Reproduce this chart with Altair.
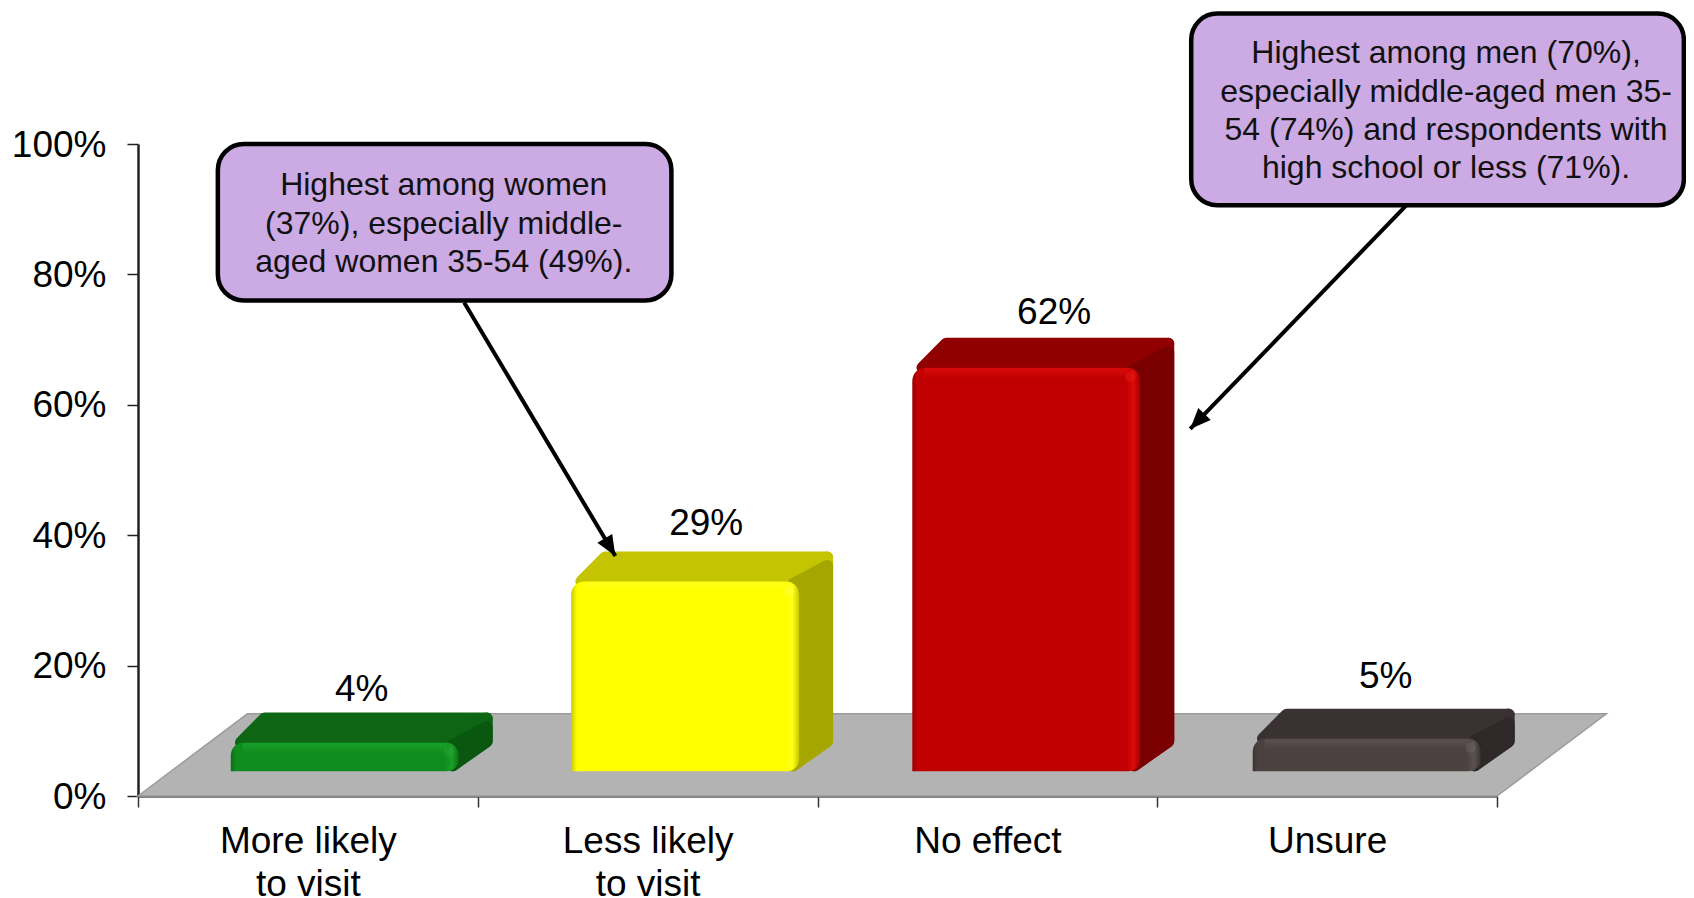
import altair as alt
import pandas as pd

# ---- chart values -------------------------------------------------------
categories = ["More likely to visit", "Less likely to visit", "No effect", "Unsure"]
tick_lines = [["More likely", "to visit"], ["Less likely", "to visit"], ["No effect"], ["Unsure"]]
values = [4.4, 29.1, 61.9, 5.0]
front = ["#108C1E", "#FFFF00", "#C00000", "#4B4141"]
light = ["#1AA02A", "#FFFF18", "#DD0A0A", "#5C5252"]
hot = ["#30A840", "#FFFF50", "#F02020", "#757070"]
dark = ["#0C7016", "#C8C800", "#A00000", "#3C3434"]
top = ["#0C6614", "#C4C400", "#900000", "#3A3232"]
side = ["#0A5810", "#A6A600", "#7A0000", "#2E2828"]
y_ticks = [0, 20, 40, 60, 80, 100]
bar_left = [0.273, 0.275, 0.279, 0.281]
label_shift_x = [0.05, 0.062, 0.082, 0.056]
label_shift_y = [3.4, 4.2, 3.8, 4.9]

notes = [
    "Highest among women\n(37%), especially middle-\naged women 35-54 (49%).",
    "Highest among men (70%),\nespecially middle-aged men 35-\n54 (74%) and respondents with\nhigh school or less (71%).",
]
note_x0 = [0.235, 3.10]
note_x1 = [1.57, 4.55]
note_y0 = [76.0, 90.6]
note_y1 = [100.0, 120.0]
note_cx = [0.90, 3.85]
note_lines = [3, 4]
arrow_x0 = [0.96, 3.733]
arrow_y0 = [75.7, 90.6]
arrow_x1 = [1.405, 3.097]
arrow_y1 = [36.8, 56.3]
arrow_angle = [149.2, 224.0]

# ---- projection constants ----------------------------------------------
W, H = 1359, 652
PX, PY = 4 / W, 100 / H        # data units per pixel
BASE = 3.8
BAR_W = 0.671
DX, DY = 0.100, 4.6
FLOOR_DX, FLOOR_DY = 0.322, 12.6
R = 6                          # half stroke of the rounded faces
BEVEL = 1.3
FONT = "Liberation Sans"
LINE = 38.4

x_scale = alt.Scale(domain=[0, 4], nice=False, zero=False)
y_scale = alt.Scale(domain=[0, 100], nice=False, zero=False)


def X(name="x"):
    return alt.X(f"{name}:Q", scale=x_scale, axis=None, title=None)


def Y(name="y"):
    return alt.Y(f"{name}:Q", scale=y_scale, axis=None, title=None, stack=None)


def poly(points, color, stroke=False):
    df = pd.DataFrame(points, columns=["x", "y", "y2"])
    kw = dict(color=color, line=False, opacity=1)
    if stroke:
        kw.update(stroke=color, strokeWidth=2 * R, strokeJoin="round")
    return alt.Chart(df).mark_area(**kw).encode(x=X(), y=Y(), y2=alt.Y2("y2:Q"))


# ---- floor, carrying the real axes ------------------------------------
label_expr = "{" + ",".join(
    f"'{i + 0.5}':{tick_lines[i]!r}" for i in range(len(categories))
) + "}[''+datum.value]"
floor_df = pd.DataFrame(
    [[0, 0, 0], [FLOOR_DX, FLOOR_DY, 0], [4, FLOOR_DY, 0], [4 + FLOOR_DX, FLOOR_DY, FLOOR_DY]],
    columns=["x", "y", "y2"],
)
floor = (
    alt.Chart(floor_df)
    .mark_area(color="#B3B3B3", stroke="#9C9C9C", strokeWidth=1.5, line=False)
    .encode(
        x=alt.X(
            "x:Q",
            scale=x_scale,
            title=None,
            axis=alt.Axis(
                values=[0, 0.5, 1, 1.5, 2, 2.5, 3, 3.5, 4],
                tickOpacity={"condition": {"test": "datum.value % 1 != 0", "value": 0}, "value": 1},
                labelExpr=label_expr,
                labelFont=FONT,
                labelFontSize=37,
                labelColor="#000000",
                labelAngle=0,
                labelAlign="center",
                labelBaseline="top",
                labelPadding=16,
                labelOverlap=False,
                labelBound=False,
                labelFlush=False,
                labelLineHeight=43,
                domainColor="#595959",
                domainWidth=2.5,
                tickColor="#333333",
                tickWidth=1.5,
                tickSize=11,
                grid=False,
            ),
        ),
        y=alt.Y(
            "y:Q",
            scale=y_scale,
            title=None,
            stack=None,
            axis=alt.Axis(
                values=y_ticks,
                labelExpr="datum.value + '%'",
                labelFont=FONT,
                labelFontSize=37,
                labelColor="#000000",
                labelPadding=21,
                labelOffset=1,
                labelOverlap=False,
                labelBound=False,
                labelFlush=False,
                domainColor="#222222",
                domainWidth=2.5,
                tickColor="#222222",
                tickWidth=1.5,
                tickSize=11,
                grid=False,
            ),
        ),
        y2=alt.Y2("y2:Q"),
    )
)

layers = [floor]

# ---- bars --------------------------------------------------------------
for i, v in enumerate(values):
    x0, x1 = i + bar_left[i], i + bar_left[i] + BAR_W
    t = BASE + v
    rx, ry = R * PX, R * PY
    layers.append(poly(
        [[x0 + 1.7 * rx, t, t], [x0 + DX, t + DY - ry, t], [x1 + DX - 2 * rx, t + DY - ry, t],
         [x1 + DX - rx, t + DY - ry, t + DY - ry]],
        top[i], True))
    layers.append(poly(
        [[x1 - rx, t + ry, BASE + ry], [x1 + DX - rx, t + DY - ry, BASE + DY]],
        top[i], True))
    layers.append(poly(
        [[x1 - rx, t + ry - BEVEL, BASE + ry], [x1 + DX - rx, t + DY - ry - BEVEL, BASE + DY]],
        side[i], True))
    frame = pd.DataFrame({"x": [x0], "x2": [x1], "y": [t], "y2": [BASE]})
    layers.append(
        alt.Chart(frame)
        .mark_rect(
            cornerRadiusTopLeft=13,
            cornerRadiusTopRight=13,
            cornerRadiusBottomRight=12,
            color=alt.Gradient(
                gradient="linear", x1=0, x2=1, y1=0, y2=0,
                stops=[
                    alt.GradientStop(offset=0, color=dark[i]),
                    alt.GradientStop(offset=0.025, color=front[i]),
                    alt.GradientStop(offset=0.94, color=front[i]),
                    alt.GradientStop(offset=0.97, color=light[i]),
                    alt.GradientStop(offset=1, color=dark[i]),
                ],
            ),
        )
        .encode(x=X(), x2=alt.X2("x2:Q"), y=Y(), y2=alt.Y2("y2:Q"))
    )
    strip = pd.DataFrame({"x": [x0 + 12 * PX], "x2": [x1 - 12 * PX], "y": [t - 0.1], "y2": [t - 1.6]})
    layers.append(
        alt.Chart(strip)
        .mark_rect(
            color=alt.Gradient(
                gradient="linear", x1=0, x2=0, y1=0, y2=1,
                stops=[
                    alt.GradientStop(offset=0, color=light[i]),
                    alt.GradientStop(offset=1, color=front[i]),
                ],
            ),
        )
        .encode(x=X(), x2=alt.X2("x2:Q"), y=Y(), y2=alt.Y2("y2:Q"))
    )
    layers.append(
        alt.Chart(pd.DataFrame({"x": [x1 - 10 * PX], "y": [t - 9 * PY]}))
        .mark_point(filled=True, shape="circle", size=110, color=hot[i], opacity=0.35, strokeWidth=0)
        .encode(x=X(), y=Y())
    )

# ---- value labels ------------------------------------------------------
bar_df = pd.DataFrame({
    "cat": categories,
    "v": values,
    "x": [i + bar_left[i] + BAR_W / 2 + label_shift_x[i] for i in range(len(values))],
    "y": [BASE + v + DY + label_shift_y[i] for i, v in enumerate(values)],
})
layers.append(
    alt.Chart(bar_df)
    .transform_calculate(label="format(datum.v, '.0f') + '%'")
    .mark_text(font=FONT, fontSize=37, color="#000000", baseline="middle", align="center")
    .encode(x=X(), y=Y(), text="label:N")
)

# ---- callouts ----------------------------------------------------------
arrow_df = pd.DataFrame({"x": arrow_x0, "y": arrow_y0, "x2": arrow_x1, "y2": arrow_y1})
layers.append(
    alt.Chart(arrow_df).mark_rule(color="#000000", strokeWidth=4)
    .encode(x=X(), y=Y(), x2=alt.X2("x2:Q"), y2=alt.Y2("y2:Q"))
)
for ax, ay, ang in zip(arrow_x1, arrow_y1, arrow_angle):
    layers.append(
        alt.Chart(pd.DataFrame({"x": [ax], "y": [ay]}))
        .mark_point(shape="M0,0L-0.42,1L0.42,1Z", filled=True, color="#000000",
                    size=1700, angle=ang, opacity=1, strokeWidth=0)
        .encode(x=X(), y=Y())
    )
note_df = pd.DataFrame({
    "x": note_x0, "x2": note_x1, "y": note_y0, "y2": note_y1, "note": notes,
    "cx": note_cx,
    "cy": [(a + b) / 2 + (n - 1) / 2 * LINE * PY - 0.2 for a, b, n in zip(note_y0, note_y1, note_lines)],
})
layers.append(
    alt.Chart(note_df)
    .mark_rect(color="#CCAAE4", stroke="#000000", strokeWidth=4.5, cornerRadius=26)
    .encode(x=X(), x2=alt.X2("x2:Q"), y=Y(), y2=alt.Y2("y2:Q"))
)
layers.append(
    alt.Chart(note_df)
    .mark_text(font=FONT, fontSize=32, color="#111111", lineBreak="\n", lineHeight=LINE,
               baseline="middle", align="center")
    .encode(x=X("cx"), y=Y("cy"), text="note:N")
)

chart = (
    alt.layer(*layers)
    .resolve_axis(x="independent", y="independent")
    .properties(
        width=W,
        height=H,
        autosize=alt.AutoSizeParams(type="none"),
        padding={"left": 130, "top": 136, "right": 189, "bottom": 102},
        background="#FFFFFF",
    )
    .configure_view(stroke=None)
)

chart.save("out.html", embed_options={"renderer": "svg", "actions": False})
